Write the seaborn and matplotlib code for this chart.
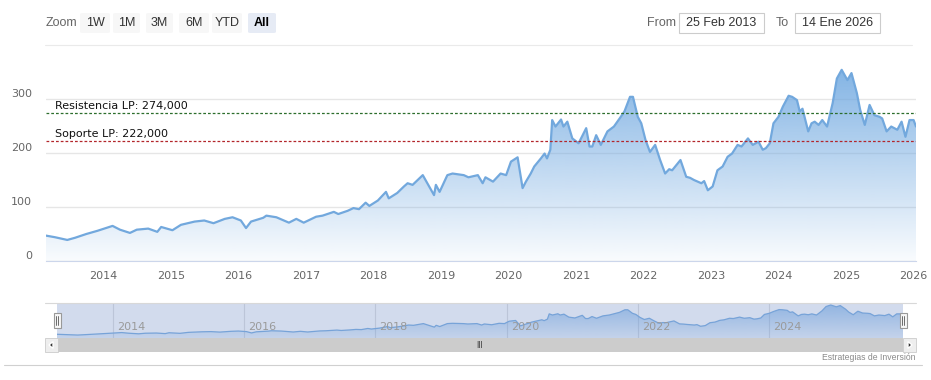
import numpy as np
import pandas as pd
import matplotlib
matplotlib.use('Agg')
import matplotlib.pyplot as plt
import matplotlib.dates as mdates
import matplotlib.font_manager as fm
from matplotlib.patches import Rectangle, FancyBboxPatch, Polygon
from matplotlib.lines import Line2D
from matplotlib.colors import to_rgb
import seaborn as sns

# datos
fechas = ['2013-02-25', '2013-04-15', '2013-06-20', '2013-08-01', '2013-10-01', '2013-12-01',
          '2014-02-20', '2014-04-01', '2014-05-25', '2014-07-01', '2014-09-01', '2014-10-20',
          '2014-11-10', '2015-01-10', '2015-02-25', '2015-05-10', '2015-07-01', '2015-08-20',
          '2015-10-20', '2015-12-01', '2016-01-15', '2016-02-12', '2016-03-10', '2016-05-15',
          '2016-06-01', '2016-07-25', '2016-10-01', '2016-11-10', '2016-12-20', '2017-02-25',
          '2017-04-01', '2017-06-01', '2017-06-25', '2017-08-15', '2017-09-15', '2017-10-15',
          '2017-11-20', '2017-12-10', '2018-01-25', '2018-03-10', '2018-03-25', '2018-05-10',
          '2018-06-15', '2018-07-05', '2018-08-01', '2018-09-25', '2018-10-20', '2018-11-25',
          '2018-12-05', '2018-12-25', '2019-02-05', '2019-03-05', '2019-05-05', '2019-05-30',
          '2019-07-20', '2019-08-15', '2019-08-30', '2019-10-10', '2019-11-20', '2019-12-20',
          '2020-01-15', '2020-02-20', '2020-03-18', '2020-04-05', '2020-05-01', '2020-05-20',
          '2020-06-25', '2020-07-15', '2020-07-28', '2020-08-15', '2020-08-25', '2020-09-12',
          '2020-10-12', '2020-10-25', '2020-11-15', '2020-12-12', '2021-01-15', '2021-02-25',
          '2021-03-15', '2021-03-30', '2021-04-20', '2021-05-15', '2021-06-20', '2021-07-25',
          '2021-08-25', '2021-09-20', '2021-10-20', '2021-11-05', '2021-12-01', '2021-12-20',
          '2022-01-12', '2022-02-05', '2022-03-05', '2022-04-01', '2022-04-28', '2022-05-20',
          '2022-06-05', '2022-07-20', '2022-08-20', '2022-09-10', '2022-10-01', '2022-11-10',
          '2022-11-25', '2022-12-15', '2023-01-10', '2023-02-05', '2023-03-05', '2023-04-01',
          '2023-04-25', '2023-05-25', '2023-06-15', '2023-07-20', '2023-08-15', '2023-09-15',
          '2023-10-08', '2023-10-25', '2023-11-15', '2023-12-05', '2024-01-01', '2024-01-25',
          '2024-02-25', '2024-03-15', '2024-04-10', '2024-04-25', '2024-05-10', '2024-06-10',
          '2024-06-28', '2024-07-15', '2024-08-05', '2024-08-25', '2024-09-20', '2024-10-20',
          '2024-11-12', '2024-12-08', '2025-01-08', '2025-01-30', '2025-02-28', '2025-03-18',
          '2025-04-12', '2025-05-08', '2025-06-03', '2025-07-01', '2025-07-15', '2025-08-08',
          '2025-09-02', '2025-10-05', '2025-10-28', '2025-11-18', '2025-12-10', '2026-01-01',
          '2026-01-14']
precios = [47, 44, 39, 43, 50, 56,
           65, 58, 52, 58, 60, 54,
           63, 57, 67, 73, 75, 70,
           78, 81, 75, 61, 73, 80,
           84, 81, 71, 78, 71, 82,
           84, 91, 87, 93, 98, 96,
           108, 102, 112, 128, 116, 126,
           138, 144, 141, 159, 144, 122,
           141, 128, 159, 162, 159, 155,
           159, 144, 155, 147, 162, 159,
           184, 192, 135, 147, 162, 175,
           190, 199, 190, 206, 261, 249,
           262, 249, 258, 227, 218, 246,
           212, 212, 233, 215, 240, 249,
           264, 277, 304, 304, 267, 255,
           224, 202, 215, 187, 162, 170,
           168, 187, 156, 154, 150, 144,
           148, 131, 138, 168, 175, 193,
           199, 215, 212, 227, 215, 221,
           206, 209, 218, 255, 267, 286,
           306, 304, 298, 277, 282, 240,
           255, 258, 252, 261, 249, 292,
           338, 354, 335, 348, 311, 280,
           252, 289, 270, 267, 264, 240,
           249, 243, 258, 230, 261, 261,
           249]

niveles = [274, 222]
etiquetas_niveles = ['Resistencia LP: 274,000', 'Soporte LP: 222,000']
colores_niveles = ['#2c6e2c', '#b3262b']
yticks = [0, 100, 200, 300]
botones = ['1W', '1M', '3M', '6M', 'YTD', 'All']
desde = '25 Feb 2013'
hasta = '14 Ene 2026'
fuente = 'Estrategias de Inversión'

sns.set_style('white')
plt.rcParams['font.family'] = ['DejaVu Sans']

# fuente estrecha para la barra superior
try:
    fm.findfont('Liberation Sans Narrow', fallback_to_default=False)
    narrow = ['Liberation Sans Narrow', 'DejaVu Sans']
except Exception:
    narrow = ['Liberation Sans', 'DejaVu Sans']

W, H = 931, 380
fig = plt.figure(figsize=(W / 100, H / 100), dpi=100)


def fx(x):
    return x / W


def fy(y):
    return 1 - y / H


df = pd.DataFrame({'fecha': pd.to_datetime(fechas), 'precio': precios})
xnum = mdates.date2num(df['fecha'])


def area_degradado(ax, color, a_top, a_bot, base, tope):
    verts = [(xnum[0], base)] + list(zip(xnum, df['precio'])) + [(xnum[-1], base)]
    poly = Polygon(verts, closed=True, facecolor='none', edgecolor='none',
                   transform=ax.transData)
    ax.add_patch(poly)
    grad = np.zeros((256, 1, 4))
    grad[:, 0, :3] = to_rgb(color)
    grad[:, 0, 3] = np.linspace(a_top, a_bot, 256)
    im = ax.imshow(grad, aspect='auto', origin='upper', zorder=1,
                   extent=[xnum[0], xnum[-1], base, tope])
    im.set_clip_path(poly)


# ---- grafico principal ----
ax = fig.add_axes([fx(46), fy(261), fx(916) - fx(46), (261 - 62) / H])
area_degradado(ax, '#6ea7e0', 0.85, 0.04, 0, max(precios))
sns.lineplot(data=df, x='fecha', y='precio', ax=ax, color='#72a8dd', lw=1.6, zorder=3)

for nivel, etiqueta, color in zip(niveles, etiquetas_niveles, colores_niveles):
    ax.axhline(nivel, color=color, ls=(0, (2.2, 1.6)), lw=0.9, zorder=4)
    ax.text(9 / 870, nivel + 4, etiqueta, transform=ax.get_yaxis_transform(),
            ha='left', va='bottom', fontsize=8, color='#111111', zorder=5)

ax.set_xlim(xnum[0], xnum[-1])
ax.set_ylim(0, (261 - 62) * 100 / 54)
ax.set_yticks(yticks)
ax.grid(axis='y', color='#e6e6e6', lw=1)
ax.grid(axis='x', visible=False)
ax.xaxis.set_major_locator(mdates.YearLocator())
ax.xaxis.set_major_formatter(mdates.DateFormatter('%Y'))
ax.set_xlabel('')
ax.set_ylabel('')
for s in ['top', 'right', 'left']:
    ax.spines[s].set_visible(False)
ax.spines['bottom'].set_color('#ccd6eb')
ax.tick_params(axis='x', length=5, color='#ccd6eb', pad=2, labelsize=8, labelcolor='#666666')
ax.tick_params(axis='y', length=0, pad=10, labelsize=8, labelcolor='#666666')
for lbl in ax.get_yticklabels():
    lbl.set_va('bottom')
ax.set_axisbelow(True)

# ---- navegador ----
nav = fig.add_axes([fx(57), fy(338), fx(903) - fx(57), 35 / H])
nav.set_facecolor('#d2dbed')
area_degradado(nav, '#5f97d9', 0.55, 0.12, 8, max(precios))
sns.lineplot(data=df, x='fecha', y='precio', ax=nav, color='#77a3d8', lw=0.9, zorder=3)
nav.set_xlim(xnum[0], xnum[-1])
nav.set_ylim(8, 375)
for yr in range(2014, 2026, 2):
    xd = mdates.date2num(pd.Timestamp(f'{yr}-01-01'))
    nav.axvline(xd, color='#bcc5d8', lw=0.8, zorder=0.5)
    nav.annotate(str(yr), (xd, 0.31), xycoords=nav.get_xaxis_transform(),
                 xytext=(3, 0), textcoords='offset points', ha='left', va='center',
                 fontsize=8, color='#9a9a9a', zorder=4)
nav.set_xticks([])
nav.set_yticks([])
nav.set_xlabel('')
nav.set_ylabel('')
for s in nav.spines.values():
    s.set_visible(False)

# asas del navegador
for xh in [57, 903]:
    fig.patches.append(Rectangle((fx(xh - 3.5), fy(328)), 7 / W, 15 / H, transform=fig.transFigure,
                                 facecolor='#f7f7f7', edgecolor='#999999', lw=0.8, zorder=6))
    fig.lines.append(Line2D([fx(xh - 1), fx(xh - 1)], [fy(325), fy(316)], transform=fig.transFigure,
                            color='#555555', lw=0.6, zorder=7))
    fig.lines.append(Line2D([fx(xh + 1), fx(xh + 1)], [fy(325), fy(316)], transform=fig.transFigure,
                            color='#555555', lw=0.6, zorder=7))

# barra de desplazamiento
fig.patches.append(Rectangle((fx(57), fy(352)), 846 / W, 14 / H, transform=fig.transFigure,
                             facecolor='#cccccc', edgecolor='none'))
for xb in [45, 903]:
    fig.patches.append(Rectangle((fx(xb), fy(352)), 13 / W, 14 / H, transform=fig.transFigure,
                                 facecolor='#eeeeee', edgecolor='#cccccc', lw=0.6))
fig.patches.append(Polygon([(fx(49), fy(345)), (fx(53), fy(341.5)), (fx(53), fy(348.5))],
                           closed=True, transform=fig.transFigure, facecolor='#333333', zorder=5))
fig.patches.append(Polygon([(fx(912), fy(345)), (fx(908), fy(341.5)), (fx(908), fy(348.5))],
                           closed=True, transform=fig.transFigure, facecolor='#333333', zorder=5))
fig.text(fx(480), fy(345), 'III', ha='center', va='center', fontsize=5.5, color='#333333')

# lineas de separacion
fig.lines.append(Line2D([fx(45), fx(916)], [fy(303), fy(303)], transform=fig.transFigure,
                        color='#d8d8d8', lw=0.8))
fig.lines.append(Line2D([fx(4), fx(922)], [fy(365), fy(365)], transform=fig.transFigure,
                        color='#d0d0d0', lw=0.8))
fig.lines.append(Line2D([fx(45), fx(912)], [fy(45), fy(45)], transform=fig.transFigure,
                        color='#eaeaea', lw=0.8))
fig.text(fx(916), fy(357), fuente, ha='right', va='center', fontsize=6.2,
         color='#8a8a8a', family=narrow)

# ---- barra superior ----
fig.text(fx(46), fy(23), 'Zoom', ha='left', va='center', fontsize=9, color='#666666', family=narrow)
pos_botones = [(80, 110), (113, 140), (146, 173), (179, 209), (212, 242), (248, 276)]
for (x0, x1), b in zip(pos_botones, botones):
    sel = b == 'All'
    fig.patches.append(FancyBboxPatch((fx(x0), fy(33)), (x1 - x0) / W, 20 / H,
                                      boxstyle='round,pad=0,rounding_size=0.003',
                                      transform=fig.transFigure,
                                      facecolor='#e6ebf5' if sel else '#f7f7f7', edgecolor='none'))
    fig.text(fx((x0 + x1) / 2), fy(23), b, ha='center', va='center', fontsize=9,
             color='#000000' if sel else '#333333', fontweight='bold' if sel else 'normal',
             family=narrow)

fig.text(fx(647), fy(23), 'From', ha='left', va='center', fontsize=9, color='#666666', family=narrow)
fig.text(fx(776), fy(23), 'To', ha='left', va='center', fontsize=9, color='#666666', family=narrow)
for (x0, x1), t in zip([(679, 764), (795, 880)], [desde, hasta]):
    fig.patches.append(Rectangle((fx(x0), fy(33)), (x1 - x0) / W, 20 / H, transform=fig.transFigure,
                                 facecolor='white', edgecolor='#cccccc', lw=0.8))
    fig.text(fx((x0 + x1) / 2), fy(23), t, ha='center', va='center', fontsize=9,
             color='#333333', family=narrow)

fig.savefig('out.png', dpi=100)
